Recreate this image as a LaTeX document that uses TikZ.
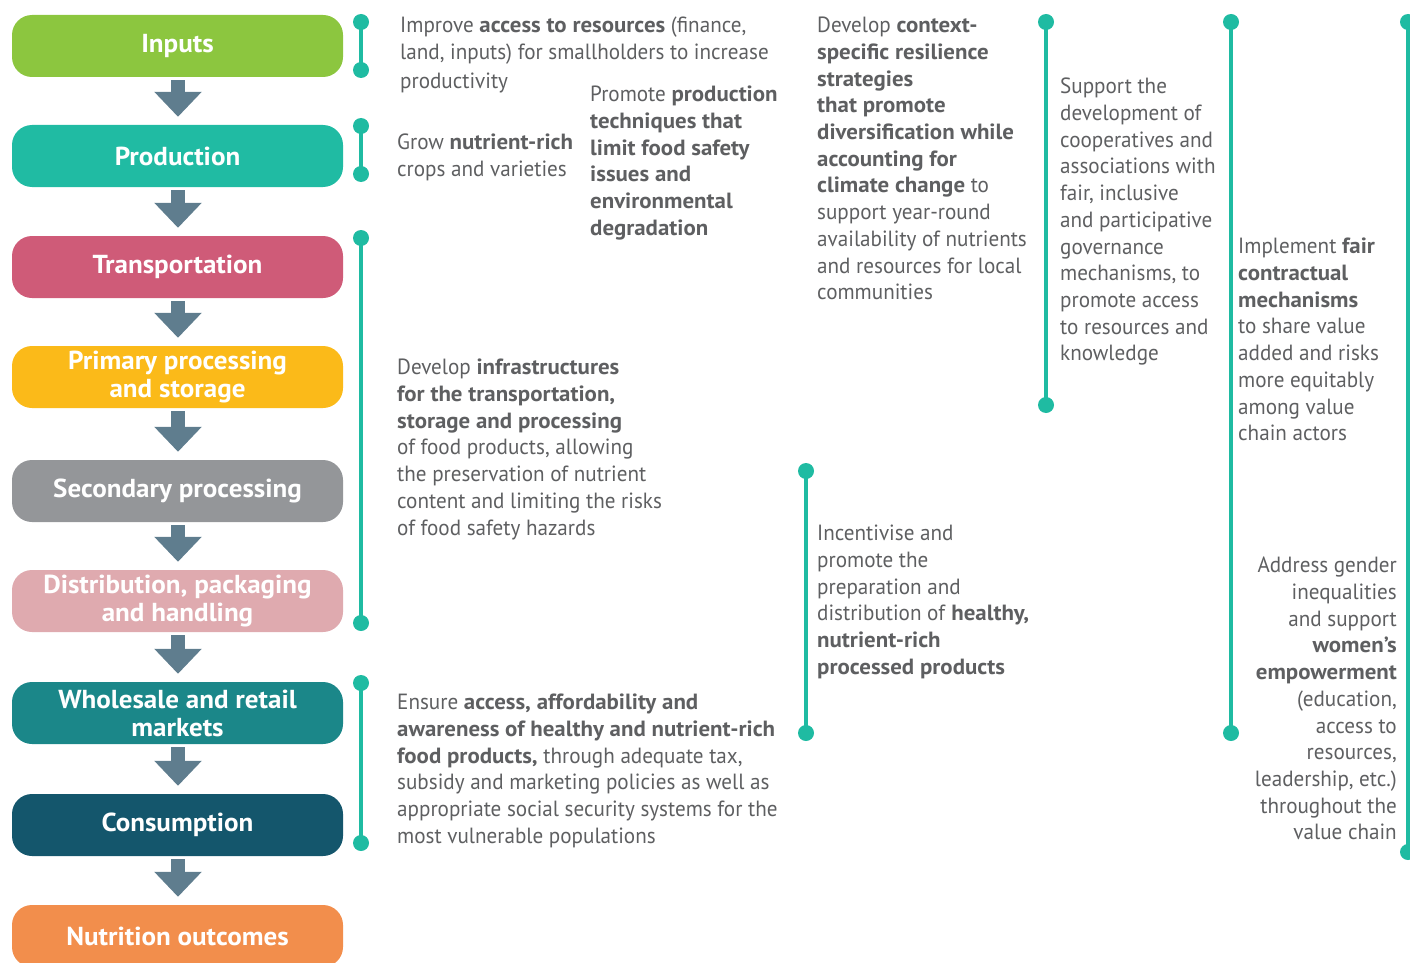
\documentclass[tikz,border=0pt]{standalone}
\usepackage{fontspec}
\setmainfont{PT Sans}[FakeStretch=0.96, BoldFeatures={FakeStretch=1.04}]
\usetikzlibrary{arrows.meta,calc}
\definecolor{cInputs}{HTML}{8CC63F}
\definecolor{cProd}{HTML}{20BBA3}
\definecolor{cTrans}{HTML}{CF5B78}
\definecolor{cPrim}{HTML}{FBBA19}
\definecolor{cSec}{HTML}{949699}
\definecolor{cDist}{HTML}{DFAAAF}
\definecolor{cWhole}{HTML}{1B8789}
\definecolor{cCons}{HTML}{14566C}
\definecolor{cNutr}{HTML}{F28E4C}
\definecolor{cArrow}{HTML}{5F7D8E}
\definecolor{cBar}{HTML}{1FBBA2}
\definecolor{cText}{HTML}{5E5F61}
\begin{document}
\begin{tikzpicture}[x=1pt,y=-1pt,
  stage/.style={rounded corners=20pt, minimum width=331pt, minimum height=62pt, inner sep=0pt,
    text=white, font=\fontsize{26}{28}\selectfont\bfseries, align=center},
  flow/.style={cArrow, line width=14pt, -{Triangle[width=46pt,length=25pt]}},
  bar/.style={cBar, line width=4.5pt},
  dot/.style={cBar},
  txt/.style={inner sep=0pt, align=left, anchor=north west, text=cText, font=\fontsize{22}{26.7}\selectfont},
  rtxt/.style={txt, align=right, anchor=north east}]
\useasboundingbox (0,0) rectangle (1410,963);

% stages
\node[stage, fill=cInputs] (inputs) at (177.5,46) {Inputs};
\node[stage, fill=cProd]   (prod)   at (177.5,156) {Production};
\node[stage, fill=cTrans]  (trans)  at (177.5,267) {Transportation};
\node[stage, fill=cPrim]   (prim)   at (177.5,377) {Primary processing\\and storage};
\node[stage, fill=cSec]    (sec)    at (177.5,491) {Secondary processing};
\node[stage, fill=cDist]   (dist)   at (177.5,601) {Distribution, packaging\\and handling};
\node[stage, fill=cWhole]  (whole)  at (177.5,713) {Wholesale and retail\\markets};
\node[stage, fill=cCons]   (cons)   at (177.5,825) {Consumption};
\node[stage, fill=cNutr]   (nutr)   at (177.5,936) {Nutrition outcomes};

% flow arrows
\foreach \a/\b in {inputs/prod, prod/trans, trans/prim, prim/sec, sec/dist, dist/whole, whole/cons, cons/nutr}{
  \draw[flow] ($(\a.south)+(0.5,3)$) -- ($(\b.north)+(0.5,-8)$);
}

% brackets
\foreach \n/\x/\ya/\yb in {b1/361/22/70, b2/361/126/174, b3/361/238/623, b4/361/683/843,
    b5/806/471/733, b6/1046/22/405, b7/1231/22/733, b8/1408/22/852}{
  \coordinate (\n t) at (\x,\ya);
  \coordinate (\n b) at (\x,\yb);
  \draw[bar] (\n t) -- (\n b);
  \fill[dot] (\n t) circle (8pt);
  \fill[dot] (\n b) circle (8pt);
}

% texts
\node[txt] (t1) at (400,17) {Improve \textbf{access to resources} (finance,\\land, inputs) for smallholders to increase\\[2pt]productivity};
\node[txt] (t2) at (397,134) {Grow \textbf{nutrient-rich}\\crops and varieties};
\node[txt] (t3) at (590,86) {Promote \textbf{production}\\\textbf{techniques that}\\\textbf{limit food safety}\\\textbf{issues and}\\\textbf{environmental}\\\textbf{degradation}};
\node[txt] (t4) at (817,17) {Develop \textbf{context-}\\\textbf{specific resilience}\\\textbf{strategies}\\\textbf{that promote}\\\textbf{diversification while}\\\textbf{accounting for}\\\textbf{climate change} to\\support year-round\\availability of nutrients\\and resources for local\\communities};
\node[txt] (t5) at (1060,78) {Support the\\development of\\cooperatives and\\associations with\\fair, inclusive\\and participative\\governance\\mechanisms, to\\promote access\\to resources and\\knowledge};
\node[txt] (t6) at (1238,238) {Implement \textbf{fair}\\\textbf{contractual}\\\textbf{mechanisms}\\to share value\\added and risks\\more equitably\\among value\\chain actors};
\node[txt] (t7) at (397,359) {Develop \textbf{infrastructures}\\\textbf{for the transportation,}\\\textbf{storage and processing}\\of food products, allowing\\the preservation of nutrient\\content and limiting the risks\\of food safety hazards};
\node[txt] (t8) at (817,525) {Incentivise and\\promote the\\preparation and\\distribution of \textbf{healthy,}\\\textbf{nutrient-rich}\\\textbf{processed products}};
\node[txt] (t9) at (397,694) {Ensure \textbf{access, affordability and}\\\textbf{awareness of healthy and nutrient-rich}\\\textbf{food products,} through adequate tax,\\subsidy and marketing policies as well as\\appropriate social security systems for the\\most vulnerable populations};
\node[rtxt] (t10) at (1397,557) {Address gender\\inequalities\\and support\\\textbf{women’s}\\\textbf{empowerment}\\(education,\\access to\\resources,\\leadership, etc.)\\throughout the\\value chain};
\end{tikzpicture}
\end{document}
